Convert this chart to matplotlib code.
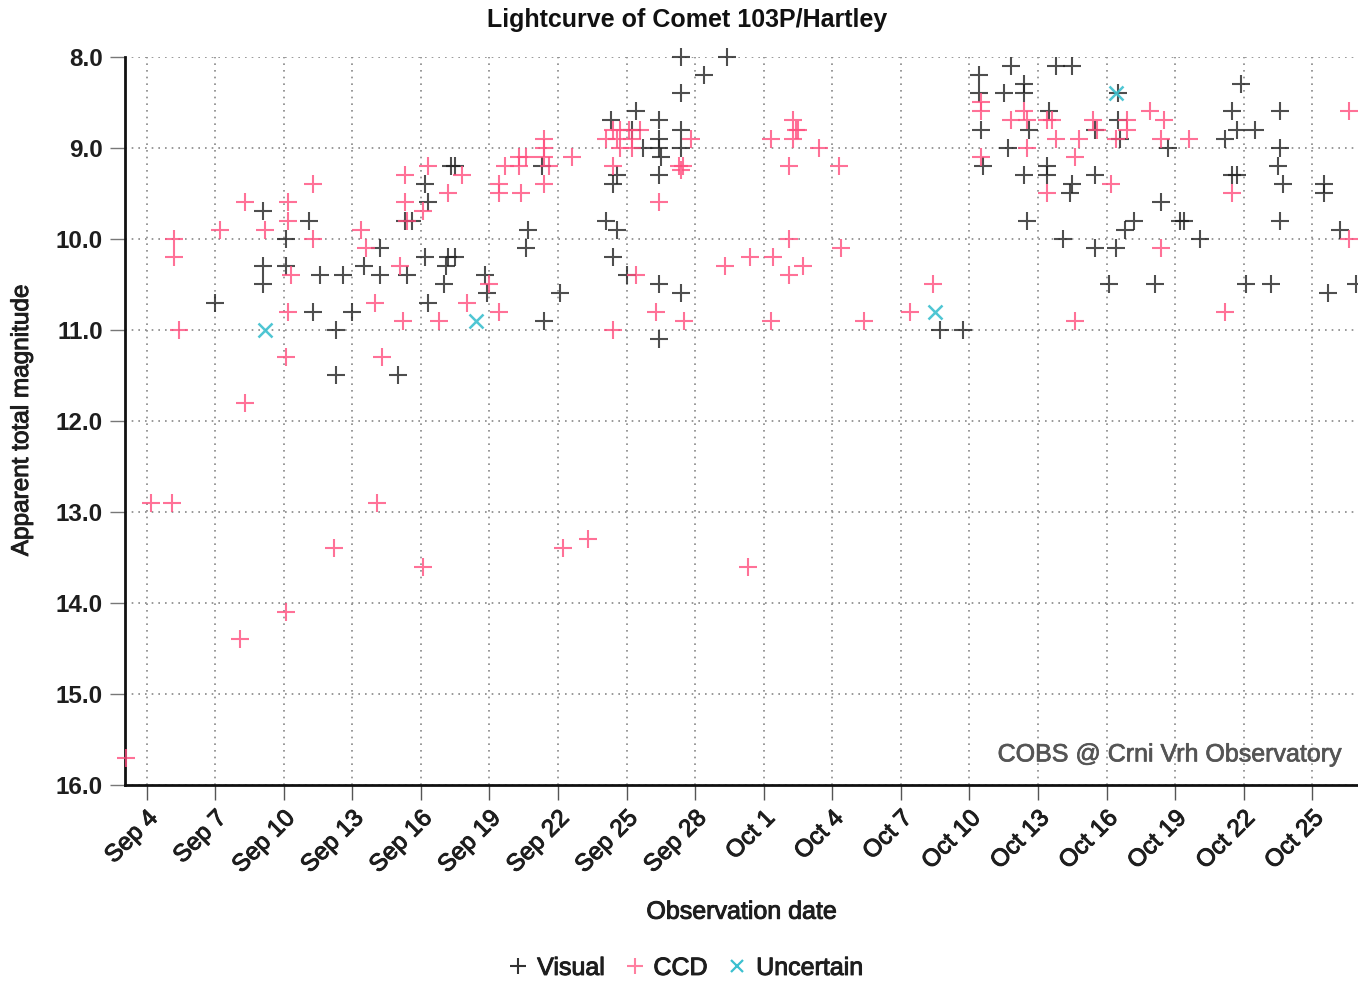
import matplotlib
matplotlib.use("Agg")
import matplotlib.pyplot as plt
import matplotlib.dates as mdates
import matplotlib.patheffects as pe
from matplotlib.ticker import FuncFormatter, FixedLocator
from matplotlib.lines import Line2D
import numpy as np
import datetime as dt

plt.rcParams['font.family'] = ['Liberation Sans', 'DejaVu Sans']

# Day values are "day of September 2010" (Oct 1 = 31)
visual_day = [7.0, 9.1, 9.1, 9.1, 10.1, 10.1, 11.1, 11.6, 11.3, 12.6, 13.0, 12.3, 12.3,
              13.5, 14.2, 14.2, 15.0, 15.4, 15.3, 15.6, 16.2, 16.2, 16.3, 16.3, 17.3, 17.5,
              17.2, 17.5, 17.1, 17.0, 18.8, 18.9, 22.1, 21.4, 20.7, 20.6, 21.3,
              24.3, 25.4, 25.25, 26.4, 27.4, 25.7, 26.4, 26.4, 27.4, 26.5, 26.4, 24.6, 24.4,
              24.1, 24.6, 24.4, 25.0, 26.4, 27.4, 26.4, 27.4, 27.4, 28.4, 29.4,
              38.7, 39.7, 40.4, 40.4, 40.5, 40.6, 41.8, 41.5, 42.4, 42.4, 42.6, 41.7, 42.4, 42.5,
              43.8, 44.5, 43.5, 43.4, 43.4, 44.5, 44.4, 45.5, 45.5, 46.5, 46.5, 46.6, 48.7,
              44.1, 45.5, 46.4, 47.2, 46.8, 46.1, 48.1, 48.4, 49.2, 49.4, 50.1,
              51.9, 51.5, 51.7, 51.2, 52.5, 51.5, 51.7, 53.6, 53.6, 53.5, 53.7, 53.6,
              52.1, 53.2, 55.5, 55.5, 56.2, 55.7, 56.9]
visual_mag = [10.7, 9.7, 10.3, 10.5, 10.0, 10.3, 9.8, 10.4, 10.8, 10.4, 10.8, 11.0, 11.5,
              10.3, 10.1, 10.4, 11.5, 10.4, 9.8, 9.8, 10.2, 9.4, 9.6, 10.7, 9.2, 9.2,
              10.2, 10.2, 10.3, 10.5, 10.4, 10.6, 10.6, 10.9, 9.9, 10.1, 9.2,
              8.7, 8.6, 8.8, 8.7, 8.8, 9.0, 8.9, 9.0, 9.0, 9.1, 9.3, 9.3, 9.4,
              9.8, 9.9, 10.2, 10.4, 10.5, 10.6, 11.1, 8.4, 8.0, 8.2, 8.0,
              11.0, 11.0, 8.2, 8.4, 8.8, 9.2, 8.1, 8.4, 8.3, 8.4, 8.8, 9.0, 9.3, 9.8,
              8.1, 8.1, 8.6, 9.2, 9.3, 9.4, 9.5, 9.3, 8.8, 8.4, 8.7, 8.9, 9.0,
              10.0, 10.1, 10.1, 9.8, 9.9, 10.5, 10.5, 9.6, 9.8, 9.8, 10.0,
              8.3, 8.6, 8.8, 8.9, 8.8, 9.3, 9.3, 8.6, 9.0, 9.2, 9.4, 9.8,
              10.5, 10.5, 9.4, 9.5, 9.9, 10.6, 10.5]

ccd_day = [5.2, 5.2, 5.4, 7.2, 8.3, 9.2, 10.2, 10.2, 11.3, 11.3, 10.3, 10.2, 10.1, 8.3,
           13.4, 13.6, 14.0, 14.3, 15.1, 15.2, 15.3, 15.3, 15.4, 16.3, 16.1, 16.8,
           17.8, 17.2, 18.0, 19.0, 19.4, 19.4, 19.4, 20.4, 19.7, 20.3, 20.6, 20.3,
           21.4, 21.4, 21.4, 21.6, 21.4, 22.6,
           24.4, 24.7, 24.1, 24.6, 25.25, 25.6, 24.7, 25.25, 25.1, 24.4, 26.4,
           27.3, 27.45, 27.4, 27.8, 25.4, 26.3, 27.5, 24.4, 29.3,
           31.3, 32.3, 32.4, 32.5, 32.3, 32.1, 33.4, 34.3, 30.4, 31.4, 32.1, 32.7, 32.1,
           34.4, 31.3, 35.4, 37.4, 38.4, 40.5, 40.5, 40.5, 41.8, 42.4, 42.5, 42.5,
           43.4, 43.6, 43.8, 44.8, 44.6, 43.4, 45.4, 45.6, 46.2, 46.9, 46.9, 46.4,
           47.9, 48.5, 48.4, 49.6, 48.4, 51.5, 51.2, 44.6, 56.6, 56.6,
           4.2, 5.1, 8.1, 10.1, 12.2, 14.1, 16.1, 22.2, 23.3, 30.3, 3.1]
ccd_mag = [10.0, 10.2, 11.0, 9.9, 9.6, 9.9, 9.6, 9.8, 9.4, 10.0, 10.4, 10.8, 11.3, 11.8,
           9.9, 10.1, 10.7, 11.3, 10.3, 10.9, 9.3, 9.6, 9.8, 9.2, 9.7, 10.9,
           9.3, 9.5, 10.7, 10.5, 10.8, 9.4, 9.5, 9.5, 9.2, 9.1, 9.1, 9.2,
           8.9, 9.0, 9.1, 9.2, 9.4, 9.1,
           8.8, 8.8, 8.9, 8.9, 8.9, 8.8, 9.0, 9.0, 8.8, 9.2, 9.6,
           9.2, 9.2, 9.25, 8.9, 10.4, 10.8, 10.9, 11.0, 10.3,
           8.9, 8.7, 8.8, 8.8, 8.9, 9.2, 9.0, 9.2, 10.2, 10.2, 10.0, 10.3, 10.4,
           10.1, 10.9, 10.9, 10.8, 10.5, 8.5, 8.6, 9.1, 8.7, 8.6, 8.7, 9.0,
           8.7, 8.7, 8.9, 8.9, 9.1, 9.5, 8.7, 8.8, 9.4, 8.7, 8.8, 8.9,
           8.6, 8.7, 8.9, 8.9, 10.1, 9.5, 10.8, 10.9, 8.6, 10.0,
           12.9, 12.9, 14.4, 14.1, 13.4, 12.9, 13.6, 13.4, 13.3, 13.6, 15.7]

uncertain_day = [9.2, 18.4, 38.5, 46.4]
uncertain_mag = [11.0, 10.9, 10.8, 8.4]

tick_days = list(range(4, 57, 3))   # Sep 4 ... Oct 25
y_ticks = [8, 9, 10, 11, 12, 13, 14, 15, 16]

base = mdates.date2num(dt.datetime(2010, 9, 1))
def to_num(days):
    return base + np.asarray(days, dtype=float) - 1.0

TXT = '#1e1e1e'
thick = [pe.withStroke(linewidth=0.7, foreground=TXT)]

fig = plt.figure(figsize=(13.58, 9.81), dpi=100)
ax = fig.add_axes([0.092, 0.1998, 0.908, 0.7424])

ms, mew = 12.5, 1.5
ax.plot(to_num(visual_day), visual_mag, linestyle='none', marker='+', ms=ms, mew=mew,
        color='#222222', alpha=0.8, zorder=3, clip_on=False)
ax.plot(to_num(ccd_day), ccd_mag, linestyle='none', marker='+', ms=ms, mew=mew,
        color='#ff4d7d', alpha=0.8, zorder=3, clip_on=False)
ax.plot(to_num(uncertain_day), uncertain_mag, linestyle='none', marker='x', ms=9.5, mew=1.8,
        color='#3cc0cf', alpha=0.9, zorder=4, clip_on=False)

ax.set_xlim(to_num([3.05])[0], to_num([57.0])[0])
ax.set_ylim(16, 8)
ax.yaxis.set_major_locator(FixedLocator(y_ticks))
ax.yaxis.set_major_formatter(FuncFormatter(lambda v, p: f"{v:.1f}"))
ax.xaxis.set_major_locator(FixedLocator(to_num(tick_days)))
def fmt_date(v, p):
    d = mdates.num2date(v)
    return f"{d:%b} {d.day}"
ax.xaxis.set_major_formatter(FuncFormatter(fmt_date))

for spine in ['top', 'right']:
    ax.spines[spine].set_visible(False)
for spine in ['left', 'bottom']:
    ax.spines[spine].set_linewidth(2)
    ax.spines[spine].set_color('#111111')

ax.grid(True, linestyle=(0, (1, 3)), color='#888888', linewidth=1.2)
ax.set_axisbelow(True)

ax.tick_params(axis='x', direction='out', length=11, width=1, color='#555555', pad=5,
               labelsize=17.5, labelcolor=TXT)
ax.tick_params(axis='y', direction='out', length=11, width=1, color='#777777', pad=5,
               labelsize=17.5, labelcolor=TXT)
for lab in ax.get_yticklabels():
    lab.set_fontweight('bold')
for lab in ax.get_xticklabels():
    lab.set_rotation(45)
    lab.set_ha('right')
    lab.set_va('top')
    lab.set_rotation_mode('anchor')
    lab.set_path_effects(thick)

fig.text(0.506, 1 - 20 / 981, 'Lightcurve of Comet 103P/Hartley', fontsize=18,
         fontweight='bold', color='#111111', ha='center', va='center')
ax.set_ylabel('Apparent total magnitude', fontsize=17.5, color=TXT, va='center',
              path_effects=thick)
ax.yaxis.set_label_coords(-0.0835, 0.5)
ax.set_xlabel('Observation date', fontsize=18, color=TXT, va='center', path_effects=thick)
ax.xaxis.set_label_coords(0.5, -0.174)

ax.text(0.987, 0.042, 'COBS @ Crni Vrh Observatory', transform=ax.transAxes,
        ha='right', va='center', fontsize=18, color='#555555',
        path_effects=[pe.withStroke(linewidth=0.5, foreground='#555555')])

handles = [
    Line2D([], [], linestyle='none', marker='+', ms=11, mew=1.5, color='#333333'),
    Line2D([], [], linestyle='none', marker='+', ms=11, mew=1.5, color='#ff7fa0'),
    Line2D([], [], linestyle='none', marker='x', ms=8, mew=1.6, color='#3cc0cf'),
]
leg = fig.legend(handles, ['Visual', 'CCD', 'Uncertain'], loc='center',
                 bbox_to_anchor=(0.505, 0.0133), ncol=3, frameon=False,
                 handlelength=0.8, handletextpad=0.35, columnspacing=0.8,
                 prop={'size': 18})
for t in leg.get_texts():
    t.set_color(TXT)
    t.set_path_effects(thick)

fig.savefig('out.png', dpi=100)
